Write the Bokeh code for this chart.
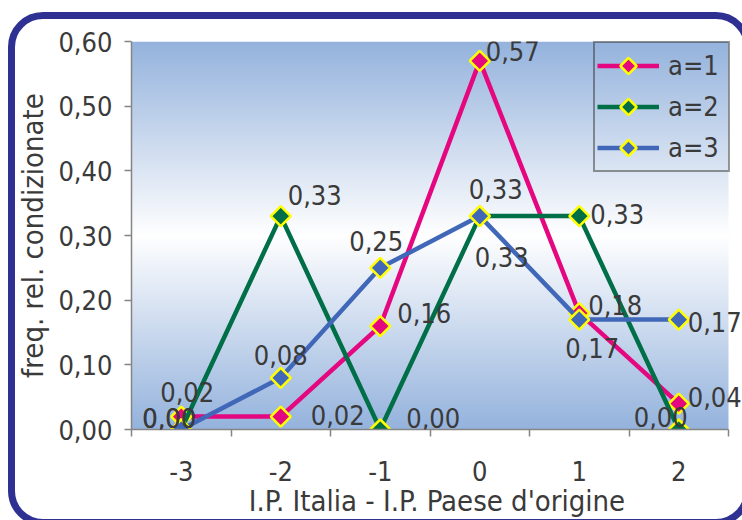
import numpy as np
from bokeh.plotting import figure
from bokeh.models import (ColumnDataSource, LabelSet, Range1d, FixedTicker,
                          CustomJSTickFormatter, Legend, LegendItem)
from bokeh.core.properties import value
from bokeh.embed import file_html
from bokeh.resources import INLINE

# Difference between I.P. Italia and I.P. of the country of origin
diff = [-3, -2, -1, 0, 1, 2]
freq_a1 = [0.02, 0.02, 0.16, 0.57, 0.18, 0.04]
freq_a2 = [0.00, 0.33, 0.00, 0.33, 0.33, 0.00]
freq_a3 = [0.00, 0.08, 0.25, 0.33, 0.17, 0.17]
series_names = ["a=1", "a=2", "a=3"]
y_ticks = [0.0, 0.1, 0.2, 0.3, 0.4, 0.5, 0.6]

# pixel offsets of each data label from its point (right, up)
offsets_a1 = [(6, 25), (57, 2), (44, 13), (33, 10), (36, 8), (36, 7)]
offsets_a2 = [(-12, 12), (34, 21), (53, 12), (22, -41), (38, 2), (-18, 13)]
offsets_a3 = [(-12, 12), (0, 23), (-4, 27), (16, 27), (13, -28), (36, -2)]

colors = ["#e4077f", "#006f47", "#4168b8"]
FONT = "DejaVu Sans Condensed"
FSIZE = "27px"
TITLE_SIZE = "29px"
TEXT = "#3a3a3a"

# the frame runs a little past the last category so the right-hand labels fit
p = figure(width=742, height=520, x_range=Range1d(-3.5, 2.6407), y_range=Range1d(0, 0.6),
           output_backend="svg", toolbar_location=None,
           min_border_left=131, min_border_right=0, min_border_top=41, min_border_bottom=90)
p.border_fill_color = "white"
p.background_fill_color = "white"
p.outline_line_color = None
p.xgrid.visible = False
p.ygrid.visible = False

# vertical blue-white-blue gradient behind the plot area
n = 390
t = np.linspace(0.0, 1.0, n)
w = 1.0 - np.abs(2.0 * t - 1.0)
edge = np.array([149, 179, 221], dtype=float)
rgb = edge[None, :] + (255.0 - edge[None, :]) * w[:, None]
img = np.empty((n, 2), dtype=np.uint32)
view = img.view(dtype=np.uint8).reshape((n, 2, 4))
for c in range(3):
    view[:, :, c] = rgb[:, c, None].astype(np.uint8)
view[:, :, 3] = 255
p.image_rgba(image=[img], x=-3.5, y=0, dw=6, dh=0.6, level="image")


def diamond_markers(src, col):
    """Yellow-edged diamond markers, 4-sided polygons in screen units."""
    try:
        return p.ngon(x="x", y="y", radius=10, radius_units="screen", n=4, angle=0,
                      source=src, fill_color=col, line_color="#ffff00", line_width=2.5)
    except Exception:
        return p.scatter(x="x", y="y", marker="diamond", size=22, source=src,
                         fill_color=col, line_color="#ffff00", line_width=2.5)


items = []
for ys, col, name in zip([freq_a1, freq_a2, freq_a3], colors, series_names):
    src = ColumnDataSource(dict(x=diff, y=ys))
    rl = p.line("x", "y", source=src, line_color=col, line_width=4.5)
    rs = diamond_markers(src, col)
    items.append(LegendItem(label=name, renderers=[rl, rs]))

for ys, offs in zip([freq_a1, freq_a2, freq_a3], [offsets_a1, offsets_a2, offsets_a3]):
    src = ColumnDataSource(dict(
        x=diff, y=ys,
        text=[f"{v:.2f}".replace(".", ",") for v in ys],
        xo=[o[0] for o in offs], yo=[o[1] for o in offs]))
    p.add_layout(LabelSet(x="x", y="y", text="text", x_offset="xo", y_offset="yo",
                          source=src, text_align="center", text_baseline="middle",
                          text_font=value(FONT), text_font_size=FSIZE, text_color=TEXT))

legend = Legend(items=items, location=(462, 257), border_line_color="#333333",
                border_line_width=2, background_fill_alpha=0,
                label_text_font=FONT, label_text_font_size=FSIZE, label_text_color=TEXT,
                glyph_width=62, glyph_height=41, spacing=0, padding=2,
                label_standoff=9, margin=0, label_width=58)
p.add_layout(legend)

boundaries = [d - 0.5 for d in diff] + [diff[-1] + 0.5]
xa = p.xaxis[0]
xa.bounds = (boundaries[0], boundaries[-1])
xa.ticker = FixedTicker(ticks=diff, minor_ticks=boundaries)
xa.formatter = CustomJSTickFormatter(code="return tick.toFixed(0);")
xa.major_tick_out = 0
xa.major_tick_in = 0
xa.minor_tick_out = 7
xa.minor_tick_in = 0
xa.major_label_standoff = 24
xa.axis_label = "I.P. Italia - I.P. Paese d'origine"
xa.axis_label_standoff = 0

ya = p.yaxis[0]
ya.ticker = FixedTicker(ticks=y_ticks, minor_ticks=[])
ya.formatter = CustomJSTickFormatter(code="return tick.toFixed(2).replace('.', ',');")
ya.major_tick_out = 7
ya.major_tick_in = 0
ya.major_label_standoff = 12
ya.axis_label = "freq. rel. condizionate"
ya.axis_label_standoff = 5

for ax in (xa, ya):
    ax.axis_line_color = "#858585"
    ax.axis_line_width = 1.5
    ax.major_tick_line_color = "#858585"
    ax.minor_tick_line_color = "#858585"
    ax.major_tick_line_width = 1.5
    ax.minor_tick_line_width = 1.5
    ax.major_label_text_font = FONT
    ax.major_label_text_font_size = FSIZE
    ax.major_label_text_color = TEXT
    ax.axis_label_text_font = FONT
    ax.axis_label_text_font_size = TITLE_SIZE
    ax.axis_label_text_font_style = "normal"
    ax.axis_label_text_color = TEXT

# rounded navy frame around the whole chart, laid over the canvas as an SVG
# overlay; the right-hand side runs off the page, so only its corners show
L, T, R, B, r = 11.5, 15.5, 747.5, 522.5, 31.5
frame_path = (f"M {R} {T + r} A {r} {r} 0 0 0 {R - r} {T} L {L + r} {T} "
              f"A {r} {r} 0 0 0 {L} {T + r} L {L} {B - r} "
              f"A {r} {r} 0 0 0 {L + r} {B} L {R - r} {B} "
              f"A {r} {r} 0 0 0 {R} {B - r}")
frame_svg = ("<svg xmlns='http://www.w3.org/2000/svg' width='742' height='520'>"
             f"<path d='{frame_path}' fill='none' stroke='%232e3192' stroke-width='7'/></svg>")
p.stylesheets = [
    ":host::after { content: ''; position: absolute; left: 0; top: 0;"
    " width: 742px; height: 520px; pointer-events: none; z-index: 10;"
    " background: url(\"data:image/svg+xml;utf8," + frame_svg + "\") no-repeat 0 0; }",
]

open("out.html", "w").write(file_html(p, INLINE))
